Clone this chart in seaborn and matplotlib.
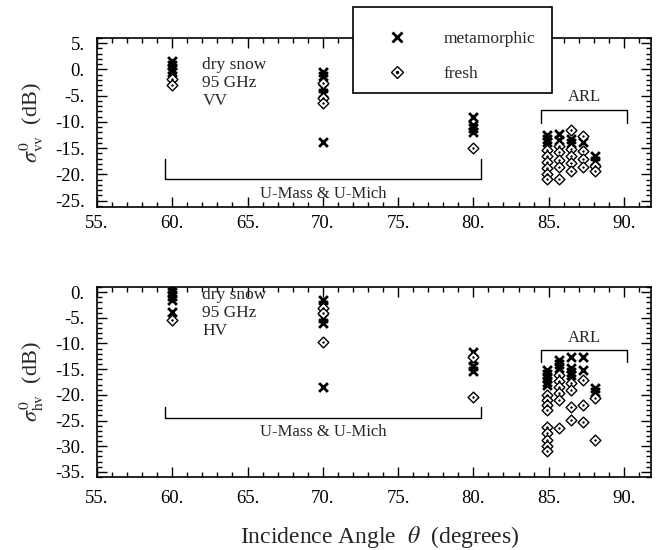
import numpy as np
import pandas as pd
import matplotlib
matplotlib.use("Agg")
import matplotlib.pyplot as plt
from matplotlib.ticker import MultipleLocator, FuncFormatter
from matplotlib.lines import Line2D
from matplotlib.patches import Rectangle
import seaborn as sns

# ---------------- data ----------------
# sigma0_vv, metamorphic snow
vv_met_angle = [60, 60, 60, 60,
                70, 70, 70, 70, 70,
                80, 80, 80, 80,
                84.9, 84.9, 84.9, 85.7, 85.7, 86.5, 86.5, 87.3, 88.1, 88.1]
vv_met_db = [1.6, 0.8, 0.0, -0.5,
             -0.5, -1.2, -3.5, -4.5, -13.9,
             -9.1, -10.5, -11.2, -12.0,
             -12.4, -13.2, -13.9, -12.2, -13.5, -13.2, -14.1, -13.9, -16.4, -17.4]
# sigma0_vv, fresh snow
vv_fr_angle = [60, 60, 70, 70, 70, 80,
               84.9, 84.9, 84.9, 84.9, 84.9, 84.9,
               85.7, 85.7, 85.7, 85.7, 85.7,
               86.5, 86.5, 86.5, 86.5, 86.5,
               87.3, 87.3, 87.3, 87.3, 88.1, 88.1]
vv_fr_db = [-1.9, -3.0, -2.6, -5.5, -6.4, -14.9,
            -15.3, -16.4, -17.6, -18.7, -19.9, -20.8,
            -14.5, -15.8, -17.2, -18.5, -20.8,
            -11.6, -15.1, -16.4, -17.8, -19.3,
            -12.6, -15.5, -17.0, -18.5, -18.3, -19.3]

# sigma0_hv, metamorphic snow
hv_met_angle = [60, 60, 60, 60, 60,
                70, 70, 70, 70, 70,
                80, 80, 80, 80,
                84.9, 84.9, 84.9, 84.9, 84.9, 85.7, 85.7, 85.7,
                86.5, 86.5, 86.5, 86.5, 87.3, 87.3, 88.1, 88.1]
hv_met_db = [0.8, 0.0, -0.75, -1.5, -3.9,
             -1.5, -2.5, -5.0, -6.0, -18.5,
             -11.7, -13.2, -14.3, -15.3,
             -15.2, -15.9, -16.7, -17.5, -18.1, -13.2, -14.0, -14.8,
             -12.6, -14.8, -15.6, -16.1, -12.6, -15.2, -18.7, -19.4]
# sigma0_hv, fresh snow
hv_fr_angle = [60, 70, 70, 70, 80, 80,
               84.9, 84.9, 84.9, 84.9, 84.9, 84.9, 84.9, 84.9, 84.9,
               85.7, 85.7, 85.7, 85.7, 85.7, 85.7,
               86.5, 86.5, 86.5, 86.5,
               87.3, 87.3, 87.3, 88.1, 88.1]
hv_fr_db = [-5.4, -3.1, -4.1, -9.7, -12.6, -20.5,
            -20.0, -21.0, -22.0, -23.0, -26.3, -27.4, -28.8, -30.0, -30.9,
            -16.1, -17.3, -18.5, -19.6, -21.0, -26.5,
            -17.7, -19.1, -22.4, -24.9,
            -17.1, -22.0, -25.3, -20.6, -28.8]

x_ticks = [55, 60, 65, 70, 75, 80, 85, 90]
vv_ticks = [5, 0, -5, -10, -15, -20, -25]
hv_ticks = [0, -5, -10, -15, -20, -25, -30, -35]

# ---------------- style ----------------
sns.set_theme(style="ticks")
plt.rcParams["font.family"] = ["Liberation Serif", "DejaVu Serif"]
plt.rcParams["mathtext.fontset"] = "stix"

W, H = 664, 550
fig = plt.figure(figsize=(W / 100, H / 100), dpi=100)


def ax_rect(l, t, r, b):
    return [l / W, 1 - b / H, (r - l) / W, (b - t) / H]


ax1 = fig.add_axes(ax_rect(97, 38, 651, 207))
ax2 = fig.add_axes(ax_rect(97, 287, 651, 477))

fmt = FuncFormatter(lambda v, p: f"{v:.0f}.")


def draw(ax, ma, md, fa, fd, ylim, yticks, xpad):
    dm = pd.DataFrame({"angle": ma, "db": md})
    dfr = pd.DataFrame({"angle": fa, "db": fd})
    sns.scatterplot(data=dm, x="angle", y="db", ax=ax, marker="x", s=40,
                    color="black", linewidth=2.0, zorder=3)
    sns.scatterplot(data=dfr, x="angle", y="db", ax=ax, marker="D", s=30,
                    facecolor="white", edgecolor="black", linewidth=1.0, zorder=4)
    sns.scatterplot(data=dfr, x="angle", y="db", ax=ax, marker="o", s=3,
                    color="black", linewidth=0, zorder=5)
    ax.set_xlim(55, 91.8)
    ax.set_ylim(*ylim)
    ax.set_xticks(x_ticks)
    ax.set_yticks(yticks)
    ax.xaxis.set_minor_locator(MultipleLocator(1))
    ax.yaxis.set_minor_locator(MultipleLocator(1))
    ax.xaxis.set_major_formatter(fmt)
    ax.yaxis.set_major_formatter(fmt)
    ax.tick_params(which="both", direction="in", top=True, right=True,
                   labelsize=13.5, colors="black", width=1)
    ax.tick_params(which="major", length=7)
    ax.tick_params(which="minor", length=3.5)
    ax.tick_params(axis="y", which="major", pad=9)
    ax.tick_params(axis="x", which="major", pad=xpad)
    for s in ax.spines.values():
        s.set_color("black")
        s.set_linewidth(1.2)
    ax.set_xlabel("")
    ax.set_ylabel("")


draw(ax1, vv_met_angle, vv_met_db, vv_fr_angle, vv_fr_db, (-26.2, 6), vv_ticks, 6.0)
draw(ax2, hv_met_angle, hv_met_db, hv_fr_angle, hv_fr_db, (-36, 1), hv_ticks, 9.5)


def bracket(ax, x0, x1, y, yend, label, ly):
    ax.plot([x0, x0, x1, x1], [yend, y, y, yend], color="black", lw=1.0)
    ax.text((x0 + x1) / 2, ly, label, ha="center", va="center", fontsize=12)


bracket(ax1, 59.5, 80.5, -20.8, -17.0, "U-Mass & U-Mich", -23.7)
bracket(ax1, 84.5, 90.2, -7.8, -10.1, "ARL", -5.3)
bracket(ax2, 59.5, 80.5, -24.5, -22.4, "U-Mass & U-Mich", -27.2)
bracket(ax2, 84.5, 90.2, -11.3, -13.6, "ARL", -8.9)

ax1.text(62.0, 2.3, "dry snow\n95 GHz\nVV", ha="left", va="top",
         fontsize=12.5, linespacing=1.15)
ax2.text(62.0, 1.0, "dry snow\n95 GHz\nHV", ha="left", va="top",
         fontsize=12.5, linespacing=1.15)

ax1.set_ylabel(r"$\sigma^{0}_{\rm vv}$  (dB)", fontsize=16, labelpad=6)
ax2.set_ylabel(r"$\sigma^{0}_{\rm hv}$  (dB)", fontsize=16, labelpad=6)
fig.text(380 / W, 1 - 537 / H, r"Incidence Angle  $\theta$  (degrees)",
         fontsize=17, ha="center", va="center")

# legend: plain box + frameless legend inside it
box = Rectangle((353 / W, 1 - 93 / H), 199 / W, 86 / H,
                transform=fig.transFigure, facecolor="white",
                edgecolor="black", linewidth=1.2, zorder=4)
fig.add_artist(box)
h_met = Line2D([], [], marker="x", color="black", ls="none", markersize=7,
               markeredgewidth=2)
h_d = Line2D([], [], marker="D", ls="none", markerfacecolor="white",
             markeredgecolor="black", markersize=6)
h_dot = Line2D([], [], marker="o", ls="none", color="black", markersize=1.5)
leg = fig.legend([h_met, (h_d, h_dot)], ["metamorphic", "fresh"],
                 loc="upper left", bbox_to_anchor=(353 / W, 1 - 12 / H),
                 borderaxespad=0, frameon=False,
                 fontsize=12.5, handletextpad=1.2,
                 borderpad=1.1, labelspacing=1.05, handlelength=2.9)
leg.set_zorder(5)

fig.savefig("out.png", dpi=100)
